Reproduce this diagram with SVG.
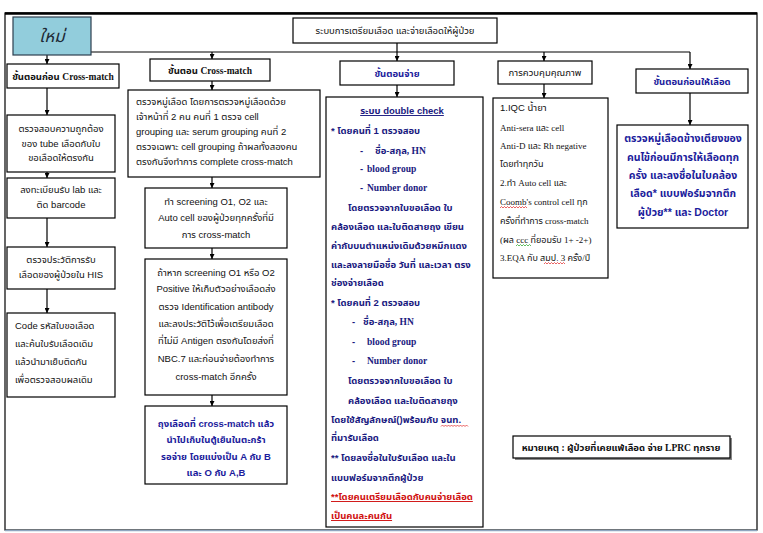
<svg xmlns="http://www.w3.org/2000/svg" width="763" height="533" viewBox="0 0 763 533">
<style>
  text { font-family: "Liberation Sans", "Noto Sans Thai", "Noto Sans", "DejaVu Sans", sans-serif; font-size: 9.5px; fill: #111; }
  .box { fill: #fff; stroke: #000; stroke-width: 1.2; }
  .c { text-anchor: middle; }
  .b { font-weight: bold; }
  .blue { fill: #1c1c9c; font-weight: bold; }
  .navy { fill: #1a1a80; font-weight: bold; }
  .serif { font-family: "Liberation Serif", "Noto Sans Thai", "Noto Serif", serif; }
  .red { fill: #d01010; font-weight: bold; text-decoration: underline; }
  .conn { stroke: #000; stroke-width: 1.2; fill: none; }
  .sq { fill: none; stroke-width: 0.7; }
</style>
<defs>
  <marker id="ah" viewBox="0 0 10 10" refX="10" refY="5" markerWidth="5" markerHeight="5" orient="auto" markerUnits="userSpaceOnUse">
    <path d="M0,0 L10,5 L0,10 z" fill="#000"/>
  </marker>
</defs>
<rect width="763" height="533" fill="#fff"/>
<g id="frame">
  <rect x="5" y="13" width="752" height="517" fill="none" stroke="#000" stroke-width="1.2"/>
  <line x1="5" y1="13.5" x2="757" y2="13.5" stroke="#000" stroke-width="2.5"/>
  <line x1="5" y1="530.5" x2="757" y2="530.5" stroke="#8fa6c0" stroke-width="1.5"/>
</g>

<g id="connectors">
  <line class="conn" x1="91" y1="52" x2="690" y2="52"/>
  <line class="conn" x1="397" y1="42" x2="397" y2="52"/>
  <line class="conn" x1="47" y1="55" x2="47" y2="64" marker-end="url(#ah)"/>
  <line class="conn" x1="212" y1="52" x2="212" y2="59" marker-end="url(#ah)"/>
  <line class="conn" x1="397" y1="52" x2="397" y2="61" marker-end="url(#ah)"/>
  <line class="conn" x1="544" y1="52" x2="544" y2="61" marker-end="url(#ah)"/>
  <line class="conn" x1="690" y1="52" x2="690" y2="69" marker-end="url(#ah)"/>
  <line class="conn" x1="47" y1="88" x2="47" y2="115" marker-end="url(#ah)"/>
  <line class="conn" x1="47" y1="172" x2="47" y2="178" marker-end="url(#ah)"/>
  <line class="conn" x1="47" y1="218" x2="47" y2="247" marker-end="url(#ah)"/>
  <line class="conn" x1="47" y1="289" x2="47" y2="313" marker-end="url(#ah)"/>
  <line class="conn" x1="212" y1="81" x2="212" y2="90" marker-end="url(#ah)"/>
  <line class="conn" x1="212" y1="177" x2="212" y2="188" marker-end="url(#ah)"/>
  <line class="conn" x1="212" y1="248" x2="212" y2="259" marker-end="url(#ah)"/>
  <line class="conn" x1="212" y1="395" x2="212" y2="406" marker-end="url(#ah)"/>
  <line class="conn" x1="397" y1="85" x2="397" y2="97" marker-end="url(#ah)"/>
  <line class="conn" x1="544" y1="84" x2="544" y2="98" marker-end="url(#ah)"/>
  <line class="conn" x1="690" y1="93" x2="690" y2="125" marker-end="url(#ah)"/>
</g>

<g id="new">
  <rect x="13" y="17" width="78" height="38" fill="#92cddc" stroke="#2e3f4f" stroke-width="1.2"/>
  <text x="52" y="42" class="c serif" style="font-size:17px;font-style:italic;fill:#1e2a36">ใหม่</text>
</g>

<g id="title">
  <rect class="box" x="293" y="18" width="204" height="25"/>
  <text x="395" y="34" class="c">ระบบการเตรียมเลือด และจ่ายเลือดให้ผู้ป่วย</text>
</g>

<g id="c1-head">
  <rect class="box" x="7" y="64" width="112" height="24"/>
  <text x="63" y="80" class="c b">ขั้นตอนก่อน <tspan class="serif">Cross-match</tspan></text>
</g>
<g id="c1-1">
  <rect class="box" x="7" y="115" width="108" height="57"/>
  <text x="61" y="132" class="c">ตรวจสอบความถูกต้อง</text>
  <text x="61" y="147" class="c">ของ tube เลือดกับใบ</text>
  <text x="61" y="161" class="c">ขอเลือดให้ตรงกัน</text>
</g>
<g id="c1-2">
  <rect class="box" x="7" y="178" width="108" height="40"/>
  <text x="61" y="193" class="c">ลงทะเบียนรับ lab และ</text>
  <text x="61" y="208" class="c">ติด barcode</text>
</g>
<g id="c1-3">
  <rect class="box" x="7" y="247" width="108" height="42"/>
  <text x="61" y="263" class="c">ตรวจประวัติการรับ</text>
  <text x="61" y="278" class="c">เลือดของผู้ป่วยใน HIS</text>
</g>
<g id="c1-4">
  <rect class="box" x="7" y="313" width="108" height="84"/>
  <text x="15" y="329">Code รหัสใบขอเลือด</text>
  <text x="15" y="347">และค้นใบรับเลือดเดิม</text>
  <text x="15" y="365">แล้วนำมาเย็บติดกัน</text>
  <text x="15" y="383">เพื่อตรวจสอบผลเดิม</text>
</g>

<g id="c2-head">
  <rect class="box" x="150" y="59" width="120" height="22"/>
  <text x="210" y="74" class="c b">ขั้นตอน <tspan class="serif">Cross-match</tspan></text>
</g>
<g id="c2-1">
  <rect class="box" x="128" y="90" width="192" height="87"/>
  <text x="136" y="105">ตรวจหมู่เลือด โดยการตรวจหมู่เลือดด้วย</text>
  <text x="136" y="120">เจ้าหน้าที่ 2 คน  คนที่ 1  ตรวจ cell</text>
  <text x="136" y="135">grouping และ serum grouping คนที่ 2</text>
  <text x="136" y="150">ตรวจเฉพาะ cell grouping ถ้าผลทั้งสองคน</text>
  <text x="136" y="165">ตรงกันจึงทำการ complete cross-match</text>
</g>
<g id="c2-2">
  <rect class="box" x="145" y="188" width="142" height="60"/>
  <text x="216" y="205" class="c">ทำ screening O1, O2 และ</text>
  <text x="216" y="221" class="c">Auto cell ของผู้ป่วยทุกครั้งที่มี</text>
  <text x="216" y="238" class="c">การ cross-match</text>
</g>
<g id="c2-3">
  <rect class="box" x="145" y="259" width="142" height="136"/>
  <text x="216" y="276" class="c">ถ้าหาก screening O1 หรือ O2</text>
  <text x="216" y="292" class="c">Positive ให้เก็บตัวอย่างเลือดส่ง</text>
  <text x="216" y="310" class="c">ตรวจ Identification antibody</text>
  <text x="216" y="327" class="c">และลงประวัติไว้เพื่อเตรียมเลือด</text>
  <text x="216" y="344" class="c">ที่ไม่มี Antigen ตรงกันโดยส่งที่</text>
  <text x="216" y="362" class="c">NBC.7 และก่อนจ่ายต้องทำการ</text>
  <text x="216" y="380" class="c">cross-match อีกครั้ง</text>
</g>
<g id="c2-4">
  <rect class="box" x="145" y="406" width="142" height="78"/>
  <text x="216" y="427" class="c blue">ถุงเลือดที่ cross-match แล้ว</text>
  <text x="216" y="443" class="c blue">นำไปเก็บในตู้เย็นในตะกร้า</text>
  <text x="216" y="460" class="c blue">รอจ่าย โดยแบ่งเป็น A กับ B</text>
  <text x="216" y="476" class="c blue">และ O กับ A,B</text>
</g>

<g id="c3-head">
  <rect class="box" x="340" y="61" width="114" height="24"/>
  <text x="397" y="77" class="c blue">ขั้นตอนจ่าย</text>
</g>
<g id="c3-1">
  <rect class="box" x="326" y="97" width="157" height="430"/>
  <text x="402" y="114" class="c navy" text-decoration="underline">ระบบ double check</text>
  <text x="331" y="134" class="navy">* โดยคนที่ 1 ตรวจสอบ</text>
  <text x="360" y="154" class="navy">-</text><text x="375" y="154" class="navy serif">ชื่อ-สกุล, HN</text>
  <text x="360" y="172" class="navy">-</text><text x="367" y="172" class="navy serif">blood group</text>
  <text x="360" y="191" class="navy">-</text><text x="367" y="191" class="navy serif">Number donor</text>
  <text x="348" y="211" class="navy">โดยตรวจจากใบขอเลือด ใบ</text>
  <text x="331" y="230" class="navy">คล้องเลือด และใบติดสายถุง เขียน</text>
  <text x="331" y="249" class="navy">ค่ากับบนตำแหน่งเดิมด้วยหมึกแดง</text>
  <text x="331" y="268" class="navy">และลงลายมือชื่อ วันที่ และเวลา ตรง</text>
  <text x="331" y="286" class="navy">ช่องจ่ายเลือด</text>
  <text x="331" y="306" class="navy">* โดยคนที่ 2 ตรวจสอบ</text>
  <text x="352" y="325" class="navy">-</text><text x="363" y="325" class="navy serif">ชื่อ-สกุล, HN</text>
  <text x="352" y="345" class="navy">-</text><text x="367" y="345" class="navy serif">blood group</text>
  <text x="352" y="364" class="navy">-</text><text x="367" y="364" class="navy serif">Number donor</text>
  <text x="348" y="384" class="navy">โดยตรวจจากใบขอเลือด ใบ</text>
  <text x="348" y="404" class="navy">คล้องเลือด และใบติดสายถุง</text>
  <text x="331" y="423" class="navy">โดยใช้สัญลักษณ์()พร้อมกับ จนท.</text>
  <text x="331" y="441" class="navy">ที่มารับเลือด</text>
  <text x="331" y="461" class="navy">** โดยลงชื่อในใบรับเลือด และใน</text>
  <text x="331" y="481" class="navy">แบบฟอร์มจากตึกผู้ป่วย</text>
  <text x="331" y="500" class="red">**โดยคนเตรียมเลือดกับคนจ่ายเลือด</text>
  <text x="331" y="519" class="red">เป็นคนละคนกัน</text>
  <path class="sq" stroke="#e02020" d="M441,426.5 l1.5,-1.5 l1.5,1.5 l1.5,-1.5 l1.5,1.5 l1.5,-1.5 l1.5,1.5 l1.5,-1.5 l1.5,1.5 l1.5,-1.5 l1.5,1.5 l1.5,-1.5 l1.5,1.5 l1.5,-1.5 l1.5,1.5 l1.5,-1.5 l1.5,1.5 l1.5,-1.5 l1.5,1.5"/>
</g>

<g id="c4-head">
  <rect class="box" x="498" y="61" width="94" height="23"/>
  <text x="545" y="76" class="c">การควบคุมคุณภาพ</text>
</g>
<g id="c4-1">
  <rect class="box" x="493" y="98" width="115" height="180"/>
  <text x="500" y="111">1.IQC น้ำยา</text>
  <text x="500" y="131" class="serif" style="font-size:9px">Anti-sera และ cell</text>
  <text x="500" y="149" class="serif" style="font-size:9px">Anti-D และ Rh negative</text>
  <text x="500" y="167" class="serif" style="font-size:9px">โดยทำทุกวัน</text>
  <text x="500" y="186" class="serif" style="font-size:9px">2.ทำ Auto  cell และ</text>
  <text x="500" y="205" class="serif" style="font-size:9px">Coomb's control cell ทุก</text>
  <text x="500" y="224" class="serif" style="font-size:9px">ครั้งที่ทำการ cross-match</text>
  <text x="500" y="243" class="serif" style="font-size:9px">(ผล ccc ที่ยอมรับ 1+ -2+)</text>
  <text x="500" y="261" class="serif" style="font-size:9px">3.EQA กับ สมป.  3 ครั้ง/ปี</text>
  <path class="sq" stroke="#e02020" d="M500,208 l1.5,-1.5 l1.5,1.5 l1.5,-1.5 l1.5,1.5 l1.5,-1.5 l1.5,1.5 l1.5,-1.5 l1.5,1.5 l1.5,-1.5 l1.5,1.5 l1.5,-1.5 l1.5,1.5 l1.5,-1.5 l1.5,1.5 l1.5,-1.5 l1.5,1.5 l1.5,-1.5 l1.5,1.5"/>
  <path class="sq" stroke="#20a020" d="M516,246 l1.5,-1.5 l1.5,1.5 l1.5,-1.5 l1.5,1.5 l1.5,-1.5 l1.5,1.5 l1.5,-1.5 l1.5,1.5 l1.5,-1.5 l1.5,1.5"/>
  <path class="sq" stroke="#e02020" d="M544,264 l1.5,-1.5 l1.5,1.5 l1.5,-1.5 l1.5,1.5 l1.5,-1.5 l1.5,1.5 l1.5,-1.5 l1.5,1.5 l1.5,-1.5 l1.5,1.5 l1.5,-1.5 l1.5,1.5 l1.5,-1.5 l1.5,1.5"/>
</g>

<g id="c5-head">
  <rect class="box" x="636" y="69" width="112" height="24"/>
  <text x="692" y="85" class="c blue">ขั้นตอนก่อนให้เลือด</text>
</g>
<g id="c5-1">
  <rect class="box" x="617" y="125" width="131" height="103"/>
  <text x="683" y="142" class="c blue" style="font-size:10.5px">ตรวจหมู่เลือดข้างเตียงของ</text>
  <text x="683" y="161" class="c blue" style="font-size:10.5px">คนไข้ก่อนมีการให้เลือดทุก</text>
  <text x="683" y="179" class="c blue" style="font-size:10.5px">ครั้ง และลงชื่อในใบคล้อง</text>
  <text x="683" y="197" class="c blue" style="font-size:10.5px">เลือด* แบบฟอร์มจากตึก</text>
  <text x="683" y="216" class="c blue" style="font-size:10.5px">ผู้ป่วย** และ Doctor</text>
</g>

<g id="note">
  <rect x="515" y="438" width="217" height="22" fill="#888"/>
  <rect class="box" x="513" y="436" width="217" height="22"/>
  <text x="621" y="451" class="c serif b" style="font-size:9.5px">หมายเหตุ : ผู้ป่วยที่เคยแพ้เลือด จ่าย  LPRC ทุกราย</text>
</g>
</svg>
